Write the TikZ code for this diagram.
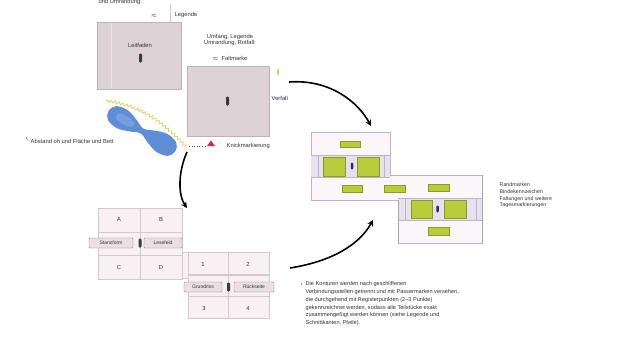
\documentclass[tikz,border=0pt]{standalone}
\usepackage{fontspec}
\setmainfont{Liberation Sans}
\usetikzlibrary{arrows.meta,decorations.pathmorphing}
\definecolor{sheet}{HTML}{DDD3D6}
\definecolor{sheetedge}{HTML}{BFB3B7}
\definecolor{cellfill}{HTML}{F8F0F2}
\definecolor{celledge}{HTML}{D6C8CC}
\definecolor{tagfill}{HTML}{EADFE2}
\definecolor{tagedge}{HTML}{8E8286}
\definecolor{pinc}{HTML}{3C3A3C}
\definecolor{trayfill}{HTML}{FAF6FA}
\definecolor{trayedge}{HTML}{BDB5C2}
\definecolor{trayband}{HTML}{E7E0EF}
\definecolor{padfill}{HTML}{B9CD3C}
\definecolor{padedge}{HTML}{8C9B25}
\definecolor{blobblue}{HTML}{5E8ED8}
\definecolor{wavec}{HTML}{D2D654}
\definecolor{markred}{HTML}{D8283A}
\definecolor{inkc}{HTML}{333333}
\begin{document}
\begin{tikzpicture}[x=1pt,y=-1pt,
  txt/.style={inner sep=0.5pt,text=inkc,font=\fontsize{5.8}{6.8}\selectfont},
  sheetbox/.style={anchor=north west,fill=sheet,draw=sheetedge,line width=0.5pt,inner sep=0},
  cellbox/.style={anchor=north west,fill=cellfill,draw=celledge,line width=0.5pt,inner sep=0},
  tagbox/.style={fill=tagfill,draw=tagedge,line width=0.45pt,rounded corners=0.8pt,inner sep=0,
    minimum height=10pt,text=inkc,font=\fontsize{5}{6}\selectfont},
  pin/.style={fill=pinc,rounded corners=1.2pt,minimum width=3pt,minimum height=9pt,inner sep=0},
  pad/.style={anchor=north west,fill=padfill,draw=padedge,line width=0.5pt,inner sep=0},
  flow/.style={line width=1.6pt,-{Stealth[length=6pt,width=6pt]},draw=black}]
\useasboundingbox[fill=white] (0,0) rectangle (636,338);

% ---------- upper sheets ----------
\node[txt,anchor=west] (topnote) at (98,2) {und Umrandung:};
\node[txt] (topmark) at (154,16) {$\approx$};
\draw[celledge,line width=0.5pt] (170,4) -- (170,22);
\node[txt,anchor=west] (toplegend) at (174,15) {Legende};

\node[sheetbox,minimum width=84pt,minimum height=67pt] (sheetA) at (97,22) {};
\draw[white!40!sheet,line width=0.5pt] (111,23) -- (111,88);
\node[txt] (sheetAlbl) at (140,45) {Leitfaden};
\node[pin] (pinA) at (140.5,58) {};

\node[txt,align=center] (sheetBnote) at (230,40) {Umfang, Legende\\Umrandung, Rotfall:};
\node[txt] (sheetBmark) at (230,58) {$\approx$\ \ Faltmarke};
\node[sheetbox,minimum width=82pt,minimum height=70pt] (sheetB) at (187,66) {};
\node[pin] (pinB) at (227.5,101) {};

\node[fill=wavec,inner sep=0,minimum width=2pt,minimum height=6pt] (tickY) at (278,72) {};
\node[txt,text=blue!25!inkc,anchor=west] (verfall) at (271,98) {Verfall};

% ---------- stretched strip ----------
\draw[wavec,line width=0.7pt,decorate,decoration={zigzag,segment length=4pt,amplitude=1.3pt}]
  (106,101) .. controls (135,104) and (160,118) .. (186,147);
\begin{scope}[shift={(142,131)},rotate=-31]
  \fill[blobblue] plot[smooth cycle,tension=0.6] coordinates {
    (-39,0) (-35,-8) (-23,-10.5) (-11,-7) (0,-2.8) (11,-7) (23,-10.5) (35,-8)
    (39,0) (35,8) (23,10.5) (11,7) (0,2.8) (-11,7) (-23,10.5) (-35,8)};
  \fill[blobblue!70!white,opacity=0.5] plot[smooth cycle,tension=0.6] coordinates {
    (-29,-3) (-21,-5) (-11,-3) (-11,2) (-21,4) (-29,2)};
\end{scope}
\node[coordinate] (blob) at (142,131) {};
\node[txt,anchor=west] (abstand) at (30,141) {Abstand oh und Fläche und Bett};
\draw[inkc,line width=0.4pt] (26,137) -- (27.5,140);

\draw[markred,line width=0.6pt,dotted] (189,146) -- (205,146);
\fill[markred] (207,146) -- (215,146) -- (211,140.5) -- cycle;
\node[txt,anchor=west] (knick) at (226,146) {Knickmarkierung};

% ---------- unfolded grid ----------
\fill[cellfill] (181,252) rectangle (189,278);
\foreach \c/\x in {0/98,1/140} \foreach \r/\y in {0/208,1/231.5,2/255}
  \node[cellbox,minimum width=42pt,minimum height=23.5pt] (ga-\r-\c) at (\x,\y) {};
\foreach \c/\x in {0/188,1/228} \foreach \r/\y in {0/252,1/275,2/296}
  \node[cellbox,minimum width=41pt,minimum height=22pt] (gb-\r-\c) at (\x,\y) {};
\draw[celledge,line width=0.5pt] (182,252) -- (188,252) (182,278) -- (188,278);

\node[txt] (cA) at (119,219) {A};
\node[txt] (cB) at (161,219) {B};
\node[txt] (cC) at (119,267) {C};
\node[txt] (cD) at (161,267) {D};
\node[txt] (c1) at (203,264) {1};
\node[txt] (c2) at (248,264) {2};
\node[txt] (c3) at (204,308) {3};
\node[txt] (c4) at (248,308) {4};

\node[tagbox,minimum width=44pt] (stanz) at (111,243) {Stanzform};
\node[tagbox,minimum width=38pt] (lese) at (163,243) {Lesefeld};
\node[pin] (pinG1) at (140,243) {};
\node[tagbox,minimum width=38pt] (grund) at (203,287) {Grundriss};
\node[tagbox,minimum width=40pt] (rueck) at (254,287) {Rückseite};
\node[pin] (pinG2) at (228.5,287) {};

% ---------- assembled tray ----------
\draw[trayedge,fill=trayfill,line width=0.5pt]
  (311,132) -- (390,132) -- (390,175) -- (482,175) -- (482,243) -- (398,243)
  -- (398,200) -- (311,200) -- cycle;
\fill[trayband] (311,155) rectangle (390,177);
\fill[trayband] (398,198) rectangle (482,220);
\draw[trayedge,line width=0.4pt] (311,155) -- (390,155) (311,177) -- (390,177)
  (318,155) -- (318,177) (384,155) -- (384,177)
  (398,198) -- (482,198) (398,220) -- (482,220)
  (405,198) -- (405,220) (476,198) -- (476,220);
\draw[gray!70,line width=0.6pt] (398,200) -- (398,243) (482,175) -- (482,243);

\node[pad,minimum width=20pt,minimum height=6pt] (p1) at (340,141) {};
\node[pad,minimum width=22pt,minimum height=19pt] (p2) at (323,157) {};
\node[pad,minimum width=22pt,minimum height=19pt] (p3) at (357,157) {};
\node[pin,minimum width=2.5pt,minimum height=7pt,fill=pinc!70!blue] (pinT1) at (352,166) {};
\node[pad,minimum width=20pt,minimum height=7pt] (p4) at (342,185) {};
\node[pad,minimum width=21pt,minimum height=7pt] (p5) at (384,185) {};
\node[pad,minimum width=21pt,minimum height=7pt] (p6) at (428,184) {};
\node[pad,minimum width=21pt,minimum height=18pt] (p7) at (411,200) {};
\node[pad,minimum width=22pt,minimum height=18pt] (p8) at (444,200) {};
\node[pin,minimum width=2.5pt,minimum height=7pt,fill=pinc!70!blue] (pinT2) at (437.5,209) {};
\node[pad,minimum width=21pt,minimum height=8pt] (p9) at (428,227) {};

\node[txt,anchor=north west,align=left,font=\fontsize{5.3}{6.8}\selectfont] (trayNote) at (499,182)
  {Randmarken\\Bindekennzeichen\\Faltungen und weitere\\Tagesmarkierungen};

\node[txt,anchor=north west,align=left,font=\fontsize{5.6}{7.8}\selectfont] (para) at (305,281)
  {Die Konturen werden nach geschliffenen\\
   Verbindungsstellen getrennt und mit Passermarken versehen,\\
   die durchgehend mit Registerpunkten (2–3 Punkte)\\
   gekennzeichnet werden, sodass alle Teilstücke exakt\\
   zusammengefügt werden können (siehe Legende und\\
   Schnittkanten, Pfeile).};
\draw[inkc,line width=0.4pt] (301,283) -- (302,285);

% ---------- flow arrows ----------
\coordinate (f1s) at (289,82);
\coordinate (f1e) at (371,126);
\coordinate (f2s) at (187,152);
\coordinate (f2e) at (187,208);
\coordinate (f3s) at (290,268);
\coordinate (f3e) at (373,220);
\draw[flow] (f1s) .. controls (330,79) and (358,102) .. (f1e);
\draw[flow] (f2s) .. controls (178,172) and (178,195) .. (f2e);
\draw[flow] (f3s) .. controls (328,262) and (358,247) .. (f3e);
\end{tikzpicture}
\end{document}
